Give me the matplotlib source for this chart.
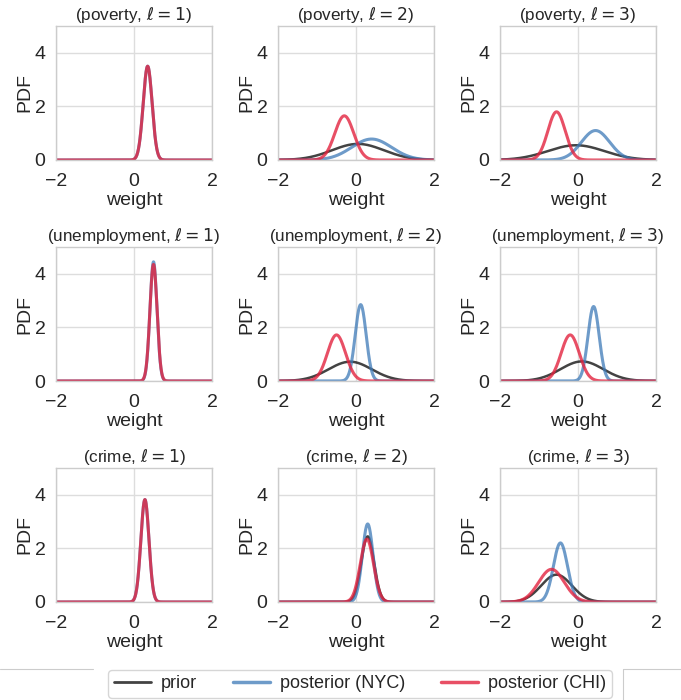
import numpy as np
import matplotlib
matplotlib.use("Agg")
import matplotlib.pyplot as plt
from matplotlib.lines import Line2D
import seaborn as sns

sns.set_style("whitegrid")
plt.rcParams['font.family'] = ['Liberation Sans', 'DejaVu Sans']
plt.rcParams['text.color'] = '#262626'
plt.rcParams['axes.labelcolor'] = '#262626'
plt.rcParams['xtick.color'] = '#262626'
plt.rcParams['ytick.color'] = '#262626'

features = ['poverty', 'unemployment', 'crime']
levels = [1, 2, 3]

# gaussian (mean, std) per panel, rows = feature, cols = level; None = not drawn
prior_mu = [[None, 0.05, -0.05],
            [None, -0.15, 0.10],
            [None, 0.30, -0.55]]
prior_sd = [[None, 0.665, 0.725],
            [None, 0.554, 0.546],
            [None, 0.163, 0.391]]
nyc_mu = [[0.35, 0.40, 0.45],
          [0.50, 0.12, 0.40],
          [0.28, 0.30, -0.45]]
nyc_sd = [[0.114, 0.51, 0.363],
          [0.0897, 0.140, 0.1435],
          [0.1044, 0.137, 0.181]]
chi_mu = [[0.35, -0.30, -0.55],
          [0.50, -0.50, -0.20],
          [0.28, 0.28, -0.68]]
chi_sd = [[0.114, 0.242, 0.222],
          [0.0917, 0.232, 0.232],
          [0.1044, 0.170, 0.327]]

def pdf(x, mu, sd):
    return np.exp(-0.5 * ((x - mu) / sd) ** 2) / (sd * np.sqrt(2 * np.pi))

x = np.linspace(-2, 2, 801)

W, H = 681, 700
fig = plt.figure(figsize=(W / 100, H / 100), dpi=100)

col_left = [56, 278, 500]
row_top = [26, 247, 468]
aw, ah = 156, 134

c_prior = '#222222'
c_nyc = '#3d7ab8'
c_chi = '#e3233f'

for i, feat in enumerate(features):
    for j, lev in enumerate(levels):
        ax = fig.add_axes([col_left[j] / W, 1 - (row_top[i] + ah) / H, aw / W, ah / H])
        if prior_mu[i][j] is not None:
            ax.plot(x, pdf(x, prior_mu[i][j], prior_sd[i][j]), color=c_prior, lw=1.8, alpha=0.85)
        ax.plot(x, pdf(x, nyc_mu[i][j], nyc_sd[i][j]), color=c_nyc, lw=2.2, alpha=0.75)
        ax.plot(x, pdf(x, chi_mu[i][j], chi_sd[i][j]), color=c_chi, lw=2.2, alpha=0.8)
        ax.set_xlim(-2, 2)
        ax.set_ylim(0, 5)
        ax.set_xticks([-2, 0, 2])
        ax.set_yticks([0, 2, 4])
        ax.tick_params(axis='x', labelsize=14, pad=6)
        ax.tick_params(axis='y', labelsize=14, pad=4)
        ax.set_xlabel('weight', fontsize=14, labelpad=1)
        ax.set_ylabel('PDF', fontsize=14, labelpad=1)
        ax.set_title('(%s, $\\ell = %d$)' % (feat, lev), fontsize=12.3, pad=4)
        for s in ax.spines.values():
            s.set_color('#cccccc')
            s.set_linewidth(1.0)
        ax.grid(color='#dddddd', lw=1.0)

handles = [Line2D([], [], color=c_prior, lw=2, alpha=0.85),
           Line2D([], [], color=c_nyc, lw=2.5, alpha=0.75),
           Line2D([], [], color=c_chi, lw=2.5, alpha=0.8)]
labels = ['prior', 'posterior (NYC)', 'posterior (CHI)']
leg = fig.legend(handles, labels, loc='center', bbox_to_anchor=(360 / W, 1 - 684 / H),
                 ncol=3, fontsize=13, frameon=True, columnspacing=2.0,
                 handlelength=2.05, handletextpad=0.55, borderpad=0.3)
leg.get_frame().set_edgecolor('#cccccc')

# stray frame lines below the grid
fig.add_artist(Line2D([0, 93 / W], [1 - 669 / H, 1 - 669 / H], color='#cccccc', lw=0.8))
fig.add_artist(Line2D([623 / W, 1.0], [1 - 669 / H, 1 - 669 / H], color='#cccccc', lw=0.8))
fig.add_artist(Line2D([623 / W, 623 / W], [1 - 669 / H, 0], color='#cccccc', lw=0.8))

fig.savefig('out.png', dpi=100)
